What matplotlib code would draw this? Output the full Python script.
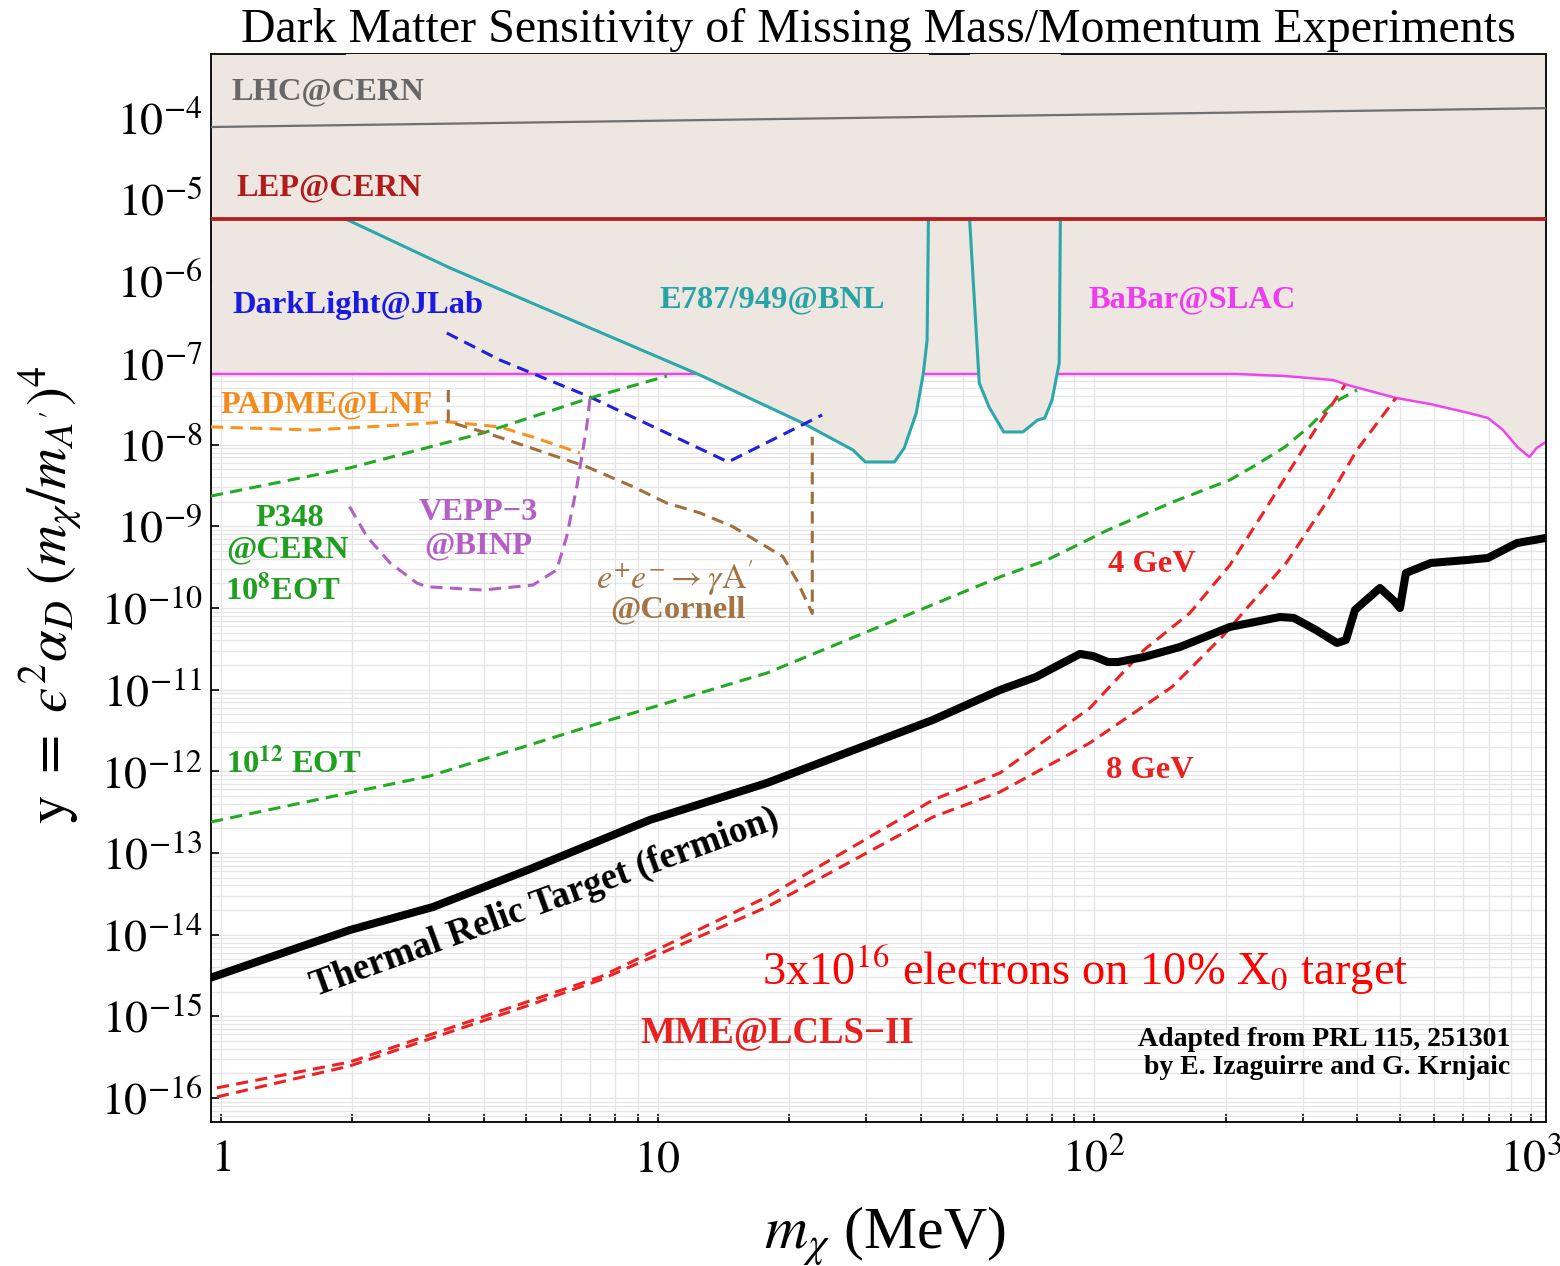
import numpy as np
import matplotlib.pyplot as plt
from matplotlib.ticker import LogLocator, NullFormatter

plt.rcParams['font.family'] = ['Liberation Serif', 'DejaVu Serif']
plt.rcParams['mathtext.fontset'] = 'stix'

# --- data (x in MeV, y dimensionless) ---
lhc_x = [0.949, 1082]
lhc_y = [7.76e-5, 1.32e-4]

lep_x = [0.949, 1082]
lep_y = [5.8e-6, 5.8e-6]

babar_x = [0.949, 211.0, 272.8, 351.9, 380.4, 410.7, 491.1, 586.8, 720.9, 796.8,
           862.4, 930.3, 991.5, 1030, 1084]
babar_y = [7.34e-8, 7.34e-8, 6.93e-8, 6.19e-8, 5.38e-8, 4.81e-8, 3.73e-8, 3.15e-8,
           2.44e-8, 2.12e-8, 1.51e-8, 9.38e-9, 7.07e-9, 9.1e-9, 1.09e-8]

e787a_x = [1.93, 3.345, 12.5, 21.5, 28.0, 29.9, 34.85, 36.7, 39.1, 40.6, 41.4, 41.7]
e787a_y = [5.8e-6, 1.46e-6, 7.13e-8, 1.84e-8, 8.61e-9, 6.14e-9, 6.14e-9, 9.1e-9,
           2.44e-8, 7.55e-8, 1.91e-7, 5.8e-6]
e787b_x = [51.8, 54.5, 57.4, 62.0, 68.6, 74.1, 77.0, 80.0, 83.1, 83.6]
e787b_y = [5.8e-6, 5.69e-8, 2.89e-8, 1.43e-8, 1.43e-8, 2.0e-8, 2.12e-8, 3.52e-8,
           1.0e-7, 5.8e-6]

darklight_x = [3.29, 4.35, 7.0, 14.5, 23.8]
darklight_y = [2.33e-7, 1.09e-7, 3.84e-8, 6.14e-9, 2.31e-8]

padme_x = [0.949, 1.62, 2.81, 3.29, 4.35, 5.18, 6.64]
padme_y = [1.65e-8, 1.51e-8, 1.79e-8, 1.91e-8, 1.65e-8, 1.24e-8, 7.91e-9]

p348_x = [0.949, 1.97, 3.98, 7.0, 10.5]
p348_y = [2.35e-9, 5.18e-9, 1.39e-8, 3.73e-8, 6.93e-8]

eot12_x = [0.949, 3.01, 7.38, 17.8, 60.8, 77.9, 107.4, 151.4, 204.4, 234.4, 273.2,
           310.0, 352.0, 399.3]
eot12_y = [2.4e-13, 8.77e-13, 3.91e-12, 1.6e-11, 2.4e-10, 3.87e-10, 9.02e-10, 1.99e-9,
           3.7e-9, 5.64e-9, 9.38e-9, 1.65e-8, 3.24e-8, 4.67e-8]

vepp_x = [1.97, 2.16, 2.44, 2.81, 2.96, 3.98, 5.18, 5.87, 6.19, 6.53, 6.88, 7.0]
vepp_y = [1.74e-9, 7.47e-10, 3.56e-10, 2.02e-10, 1.82e-10, 1.66e-10, 1.91e-10,
          2.92e-10, 7.47e-10, 3.06e-9, 1.66e-8, 3.73e-8]

cornell_x = [3.316, 3.316, 4.06, 6.88, 8.78, 10.49, 12.5, 14.87, 19.36, 20.81, 22.6, 22.6]
cornell_y = [4.67e-8, 1.91e-8, 1.39e-8, 5.37e-9, 3.06e-9, 1.93e-9, 1.46e-9, 9.9e-10,
             4.25e-10, 2.2e-10, 8.6e-11, 1.25e-8]

relic_x = [0.944, 1.517, 1.974, 3.058, 5.18, 9.60, 17.8, 42.7, 60.8, 73.5, 92.7, 99.3,
           107.4, 113.2, 129.9, 157.0, 204.4, 266.1, 286.4, 321.7, 359.3, 376.9,
           395.2, 450.8, 487.9, 501.0, 516.9, 589.9, 713.3, 796.8, 928.5, 1082]
relic_y = [2.95e-15, 7.06e-15, 1.14e-14, 2.18e-14, 6.56e-14, 2.54e-13, 7.2e-13,
           4.26e-12, 9.91e-12, 1.43e-11, 2.74e-11, 2.58e-11, 2.18e-11, 2.18e-11,
           2.51e-11, 3.33e-11, 5.86e-11, 7.76e-11, 7.55e-11, 5.38e-11, 3.73e-11,
           4.06e-11, 9.46e-11, 1.76e-10, 1.19e-10, 1.0e-10, 2.68e-10, 3.56e-10,
           3.87e-10, 4.10e-10, 6.25e-10, 7.2e-10]

mme4_x = [0.979, 1.974, 5.18, 7.38, 17.8, 42.7, 60.8, 97.7, 129.9, 165.5, 204.4,
          245.9, 280.5, 320.1, 374.9]
mme4_y = [1.33e-16, 2.76e-16, 1.59e-15, 3.03e-15, 2.9e-14, 4.46e-13, 9.55e-13,
          5.97e-12, 3.06e-11, 8.69e-11, 3.36e-10, 1.58e-9, 4.9e-9, 1.51e-8, 5.38e-8]

mme8_x = [0.979, 1.974, 5.18, 7.38, 17.8, 42.7, 60.8, 97.7, 150.6, 196.0, 276.1,
          339.1, 399.3, 490.5]
mme8_y = [1.03e-16, 2.47e-16, 1.42e-15, 2.79e-15, 2.18e-14, 2.76e-13, 5.59e-13,
          2.23e-12, 1.08e-11, 4.42e-11, 3.66e-10, 1.93e-9, 8.61e-9, 3.73e-8]

ytick_exps = list(range(-16, -3))
xtick_vals = [1, 10, 100, 1000]
xtick_labels = ['$1$', '$10$', '$10^2$', '$10^3$']

# --- figure ---
W, H = 1560, 1266
fig = plt.figure(figsize=(W / 100, H / 100), dpi=100)
ax = fig.add_axes([211 / W, 1 - 1122 / H, (1546 - 211) / W, (1122 - 54) / H])
ax.set_xscale('log')
ax.set_yscale('log')
ax.set_xlim(0.949, 1082)
ax.set_ylim(5.08e-17, 6.08e-4)

ax.xaxis.set_major_locator(LogLocator(base=10, numticks=50))
ax.xaxis.set_minor_locator(LogLocator(base=10, subs=np.arange(2, 10), numticks=50))
ax.yaxis.set_major_locator(LogLocator(base=10, numticks=50))
ax.yaxis.set_minor_locator(LogLocator(base=10, subs=np.arange(2, 10), numticks=50))
ax.xaxis.set_minor_formatter(NullFormatter())
ax.yaxis.set_minor_formatter(NullFormatter())
ax.set_xticks(xtick_vals)
ax.set_xticklabels(xtick_labels)
ax.set_yticks([10.0 ** e for e in ytick_exps])
ax.set_yticklabels([f'$10^{{{e}}}$' for e in ytick_exps])

ax.set_axisbelow(True)
ax.grid(which='both', color='#e5e5e5', lw=0.9, zorder=0)
ax.tick_params(axis='y', which='major', direction='in', length=6, width=1.2,
               labelsize=33, pad=6)
ax.tick_params(axis='y', which='minor', length=0)
ax.tick_params(axis='x', which='both', direction='in', length=6, width=1.2,
               labelsize=33, pad=12)
for s in ax.spines.values():
    s.set_linewidth(1.3)

shade = '#eee6e0'
top = 1e-3
ax.fill_between(babar_x, babar_y, top, color=shade, lw=0, zorder=1)
ax.plot(babar_x, babar_y, color='#ee44ee', lw=1.8, zorder=2)
ax.fill_between(e787a_x, e787a_y, top, color=shade, lw=0, zorder=3)
ax.fill_between(e787b_x, e787b_y, top, color=shade, lw=0, zorder=3)
ax.plot(e787a_x, e787a_y, color='#2aa8aa', lw=2.2, zorder=4)
ax.plot(e787b_x, e787b_y, color='#2aa8aa', lw=2.2, zorder=4)
ax.plot(lep_x, lep_y, color='#b22222', lw=2.8, zorder=5)
ax.plot(lhc_x, lhc_y, color='#707070', lw=1.6, zorder=5)

dash = (4, 2.4)
ax.plot(darklight_x, darklight_y, color='#2020dd', lw=2.2, dashes=dash, zorder=6)
ax.plot(padme_x, padme_y, color='#f7931e', lw=2.2, dashes=dash, zorder=6)
ax.plot(p348_x, p348_y, color='#22aa22', lw=2.2, dashes=dash, zorder=6)
ax.plot(eot12_x, eot12_y, color='#22aa22', lw=2.2, dashes=dash, zorder=6)
ax.plot(vepp_x, vepp_y, color='#b35fc6', lw=2.2, dashes=dash, zorder=6)
ax.plot(cornell_x, cornell_y, color='#a0703c', lw=2.2, dashes=dash, zorder=6)
ax.plot(mme4_x, mme4_y, color='#ee2222', lw=2.2, dashes=dash, zorder=6)
ax.plot(mme8_x, mme8_y, color='#ee2222', lw=2.2, dashes=dash, zorder=6)
ax.plot(relic_x, relic_y, color='black', lw=5.8, solid_capstyle='round', zorder=7)


def label(px, py, s, color, size=23.4, ha='left', weight='bold', **kw):
    fig.text(px / W, 1 - py / H, s, color=color, fontsize=size, ha=ha,
             va='center', fontweight=weight, zorder=10, **kw)


label(878, 30, 'Dark Matter Sensitivity of Missing Mass/Momentum Experiments',
      'black', size=34.5, ha='center', weight='normal')
label(232, 92, 'LHC@CERN', '#676767')
label(237, 188, 'LEP@CERN', '#b01c1c')
label(232, 305, 'DarkLight@JLab', '#1a1ae0')
label(772, 300, 'E787/949@BNL', '#26a4a6', ha='center')
label(1192, 300, 'BaBar@SLAC', '#ee3cee', ha='center')
label(220, 405, 'PADME@LNF', '#f38b1c')
label(290, 518, 'P348', '#1f9f1f', ha='center')
label(287, 550, '@CERN', '#1f9f1f', ha='center')
label(283, 590, r'10$^{\mathbf{8}}$EOT', '#1f9f1f', ha='center')
label(478, 513, 'VEPP\u22123', '#b35fc6', ha='center')
label(478, 546, '@BINP', '#b35fc6', ha='center')
label(675, 578, r"$e^{+}e^{-}\rightarrow\gamma\mathrm{A}'$", '#a37546', size=24.5,
      ha='center')
label(678, 610, '@Cornell', '#a37546', ha='center')
label(1152, 565, '4 GeV', '#e82020', ha='center')
label(1150, 771, '8 GeV', '#e82020', ha='center')
label(226, 763, r'10$^{\mathbf{12}}$ EOT', '#1f9f1f')
label(545, 903, 'Thermal Relic Target (fermion)', 'black', size=26.5, ha='center',
      rotation=20, rotation_mode='anchor')
label(777, 1033, 'MME@LCLS\u2212II', '#e82020', size=26.5, ha='center')
label(1085, 970, r'3x10$^{16}$ electrons on 10% X$_0$ target', '#ff0000', size=33.5,
      ha='center', weight='normal')
label(1510, 1040, 'Adapted from PRL 115, 251301', 'black', size=20, ha='right')
label(1510, 1068, 'by E. Izaguirre and G. Krnjaic', 'black', size=20, ha='right')

fig.text(50 / W, 1 - 595 / H,
         "$\\mathrm{y}\\ =\\ \u03f5^{2}\\alpha_{D}\\ (m_{\\chi}/m_{A'})^{4}$",
         fontsize=41, rotation=90, ha='center', va='center')
fig.text(885 / W, 1 - 1237 / H, r'$m_{\chi}$ (MeV)', fontsize=43,
         ha='center', va='center')

fig.savefig('out.png', dpi=100)
